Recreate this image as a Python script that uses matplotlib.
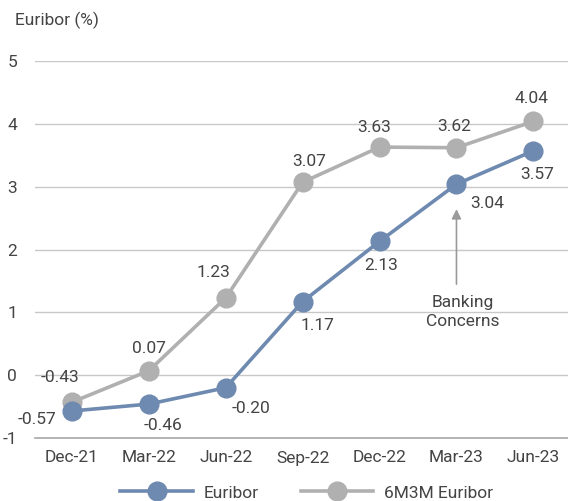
import matplotlib.pyplot as plt
import numpy as np

plt.rcParams['font.family'] = ['Roboto', 'DejaVu Sans']
plt.rcParams['axes.unicode_minus'] = False

########## Data ##########
dates = ["Dec-21", "Mar-22", "Jun-22", "Sep-22", "Dec-22", "Mar-23", "Jun-23"]
euribor = [-0.57, -0.46, -0.20, 1.17, 2.13, 3.04, 3.57]
euribor_6m3m = [-0.43, 0.07, 1.23, 3.07, 3.63, 3.62, 4.04]
yticks = [-1, 0, 1, 2, 3, 4, 5]

# label offsets in pixels
off_gray = [(-12, 25), (0, 22), (-12, 25), (7, 21), (-5, 20), (-2, 21), (-2, 23)]
off_blue = [(-35, -9), (14, -21), (25, -21), (15, -24), (2, -24), (31, -19), (4, -24)]

blue = "#6f8ab0"
gray = "#b0b0b0"
txt = "#444444"
fs = 12.5

########## Plot ##########
fig = plt.figure(figsize=(5.68, 5.01), dpi=100)
ax = fig.add_axes([35/568, 1 - 438/501, 1 - 35/568, (438 - 61)/501])

x = np.arange(len(dates))
ax.plot(x, euribor, color=blue, lw=2.6, marker="o", ms=13.5, label="Euribor", clip_on=False, zorder=4)
ax.plot(x, euribor_6m3m, color=gray, lw=2.6, marker="o", ms=13.5, label="6M3M Euribor", clip_on=False, zorder=3)

for i in range(len(dates)):
    ax.annotate("%.2f" % euribor_6m3m[i], (x[i], euribor_6m3m[i]), xytext=off_gray[i],
                textcoords="offset pixels", ha="center", va="center", fontsize=fs, color=txt)
    ax.annotate("%.2f" % euribor[i], (x[i], euribor[i]), xytext=off_blue[i],
                textcoords="offset pixels", ha="center", va="center", fontsize=fs, color=txt)

# Banking concerns arrow
ax.annotate("Banking\nConcerns", xy=(x[5], euribor[5]), xytext=(6, -128), textcoords="offset pixels",
            ha="center", va="center", fontsize=fs, color=txt, linespacing=1.35)
ax.annotate("", xy=(x[5], euribor[5]), xytext=(0, -100), textcoords="offset pixels",
            arrowprops=dict(arrowstyle="-|>", color="#9a9a9a", lw=1.2, shrinkA=0, shrinkB=18,
                            mutation_scale=14))

ax.set_xlim(-0.48, 6.45)
ax.set_ylim(-1, 5)
ax.set_xticks(x)
ax.set_xticklabels(dates)
ax.set_yticks(yticks)
ax.tick_params(length=0, labelsize=fs, colors=txt)
ax.tick_params(axis="x", pad=9)
ax.tick_params(axis="y", pad=13)
ax.grid(axis="y", color="#c8c8c8", lw=1)
ax.set_axisbelow(True)
for s in ["top", "right", "left"]:
    ax.spines[s].set_visible(False)
ax.spines["bottom"].set_color("#a8a8a8")
ax.spines["bottom"].set_linewidth(1.2)

fig.text(15/568, 1 - 20/501, "Euribor (%)", fontsize=fs, color=txt, ha="left", va="center")

fig.legend(loc="center", bbox_to_anchor=(0.54, 0.016), ncol=2, frameon=False, handlelength=4.2,
           fontsize=fs, labelcolor=txt, columnspacing=2.4, handletextpad=0.6)

fig.savefig("out.png", dpi=100)
